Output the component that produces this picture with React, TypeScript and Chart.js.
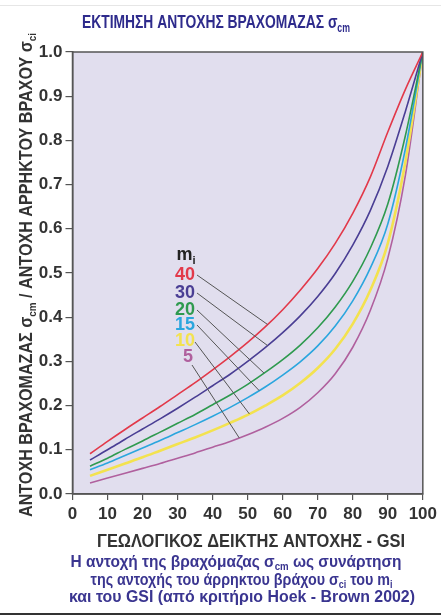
import React, { useEffect, useRef } from "react";
import { Chart, registerables } from "chart.js";

Chart.register(...registerables);

// ---- data ----
const gsi = [5, 10, 15, 20, 25, 30, 35, 40, 45, 50, 55, 60, 65, 70, 75, 80, 85, 90, 95, 100];
const mi40 = [0.091, 0.119, 0.146, 0.172, 0.198, 0.225, 0.252, 0.281, 0.311, 0.343, 0.378, 0.417, 0.461, 0.51, 0.567, 0.635, 0.717, 0.819, 0.915, 1.0];
const mi30 = [0.077, 0.1, 0.124, 0.147, 0.17, 0.194, 0.219, 0.245, 0.271, 0.3, 0.331, 0.365, 0.403, 0.447, 0.499, 0.563, 0.641, 0.741, 0.865, 1.0];
const mi20 = [0.063, 0.081, 0.101, 0.12, 0.14, 0.16, 0.18, 0.202, 0.224, 0.248, 0.275, 0.304, 0.337, 0.376, 0.423, 0.481, 0.556, 0.656, 0.81, 1.0];
const mi15 = [0.055, 0.07, 0.087, 0.104, 0.121, 0.139, 0.157, 0.176, 0.196, 0.218, 0.242, 0.269, 0.299, 0.335, 0.38, 0.437, 0.511, 0.611, 0.78, 1.0];
const mi10 = [0.041, 0.055, 0.069, 0.083, 0.098, 0.113, 0.128, 0.144, 0.161, 0.179, 0.2, 0.223, 0.251, 0.285, 0.328, 0.385, 0.461, 0.567, 0.75, 1.0];
const mi5 = [0.025, 0.036, 0.047, 0.058, 0.069, 0.081, 0.093, 0.106, 0.119, 0.134, 0.151, 0.171, 0.196, 0.229, 0.272, 0.332, 0.415, 0.533, 0.72, 1.0];
const miLabels = ["40", "30", "20", "15", "10", "5"];
const leaderGSI = [55.7, 55.7, 54.7, 53.3, 50.5, 47.6];
const xTicksMin = 0;
const xTicksMax = 100;
const yTicksMin = 0;
const yTicksMax = 1;

// ---- styles ----
const series = [mi40, mi30, mi20, mi15, mi10, mi5];
const colors = ["#e2394a", "#4a3e94", "#2f9a4f", "#2ba6de", "#f3e24f", "#b0609e"];
const widths = [1.6, 1.6, 1.6, 1.6, 2.6, 1.6];
const FONT = '"Liberation Sans", Arial, sans-serif';

type Run = { t: string; sub?: boolean };

function fontFor(size: number, sub?: boolean) {
  return `bold ${sub ? Math.round(size * 0.62) : size}px ${FONT}`;
}
function runsWidth(ctx: CanvasRenderingContext2D, runs: Run[], size: number) {
  let w = 0;
  for (const r of runs) {
    ctx.font = fontFor(size, r.sub);
    w += ctx.measureText(r.t).width;
  }
  return w;
}
function drawRuns(
  ctx: CanvasRenderingContext2D,
  runs: Run[],
  x: number,
  y: number,
  size: number,
  color: string,
  align: "left" | "center",
  fit?: number
) {
  const w = runsWidth(ctx, runs, size);
  const sx = fit ? fit / w : 1;
  ctx.save();
  ctx.translate(x, y);
  ctx.scale(sx, 1);
  ctx.fillStyle = color;
  ctx.textAlign = "left";
  ctx.textBaseline = "alphabetic";
  let cx = align === "center" ? -w / 2 : 0;
  for (const r of runs) {
    ctx.font = fontFor(size, r.sub);
    ctx.fillText(r.t, cx, r.sub ? size * 0.2 : 0);
    cx += ctx.measureText(r.t).width;
  }
  ctx.restore();
}

function valueAt(vals: number[], g: number) {
  for (let i = 0; i < gsi.length - 1; i++) {
    if (g >= gsi[i] && g <= gsi[i + 1]) {
      const t = (g - gsi[i]) / (gsi[i + 1] - gsi[i]);
      return vals[i] + t * (vals[i + 1] - vals[i]);
    }
  }
  return vals[vals.length - 1];
}

const bgPlugin = {
  id: "bgPlugin",
  beforeDraw(chart: any) {
    const { ctx, chartArea: a } = chart;
    ctx.save();
    ctx.fillStyle = "#ffffff";
    ctx.fillRect(0, 0, chart.width, chart.height);
    ctx.fillStyle = "#e1deee";
    ctx.fillRect(a.left, a.top, a.right - a.left, a.bottom - a.top);
    ctx.restore();
  },
};

const decoPlugin = {
  id: "decoPlugin",
  afterDraw(chart: any) {
    const { ctx, chartArea: a } = chart;
    const xs = chart.scales.x;
    const ys = chart.scales.y;
    ctx.save();
    // frame
    ctx.strokeStyle = "#555555";
    ctx.lineWidth = 1.5;
    ctx.strokeRect(a.left, a.top, a.right - a.left, a.bottom - a.top);

    // faint top rule and dark bottom rule
    ctx.fillStyle = "#e6e6e6";
    ctx.fillRect(0, 5, chart.width, 1);
    ctx.fillStyle = "#333333";
    ctx.fillRect(0, 613, chart.width, 2);

    // title
    drawRuns(ctx, [{ t: "ΕΚΤΙΜΗΣΗ ΑΝΤΟΧΗΣ ΒΡΑΧΟΜΑΖΑΣ σ" }, { t: "cm", sub: true }], 82, 28, 19, "#2e2b8c", "left", 268);

    // y axis title
    ctx.save();
    ctx.translate(32, 275);
    ctx.rotate(-Math.PI / 2);
    drawRuns(
      ctx,
      [
        { t: "ΑΝΤΟΧΗ ΒΡΑΧΟΜΑΖΑΣ σ" },
        { t: "cm", sub: true },
        { t: " / ΑΝΤΟΧΗ ΑΡΡΗΚΤΟΥ ΒΡΑΧΟΥ σ" },
        { t: "ci", sub: true },
      ],
      0,
      0,
      18,
      "#333333",
      "center",
      484
    );
    ctx.restore();

    // x axis title
    drawRuns(ctx, [{ t: "ΓΕΩΛΟΓΙΚΟΣ ΔΕΙΚΤΗΣ ΑΝΤΟΧΗΣ - GSI" }], 97, 546.5, 18, "#333333", "left", 308);

    // caption
    const cap = "#3a3590";
    drawRuns(ctx, [{ t: "Η αντοχή της βραχόμαζας σ" }, { t: "cm", sub: true }, { t: " ως συνάρτηση" }], 70.5, 567, 16, cap, "left", 331);
    drawRuns(
      ctx,
      [{ t: "της αντοχής του άρρηκτου βράχου σ" }, { t: "ci", sub: true }, { t: " του m" }, { t: "i", sub: true }],
      90.5,
      584.5,
      16,
      cap,
      "left",
      302
    );
    drawRuns(ctx, [{ t: "και του GSI (από κριτήριο Hoek - Brown 2002)" }], 69, 602, 16, cap, "left", 346);

    // m_i legend with leader lines
    drawRuns(ctx, [{ t: "m" }, { t: "i", sub: true }], 176.5, 260, 18, "#222222", "left");
    const labelBase = [280, 298, 315, 330, 346, 362];
    const labelX = [175, 175, 175, 175, 175, 183];
    const startPts = [
      [197, 275],
      [197, 293],
      [197, 310],
      [197, 325],
      [195, 342],
      [192, 365],
    ];
    ctx.strokeStyle = "#555555";
    ctx.lineWidth = 1;
    for (let i = 0; i < miLabels.length; i++) {
      const g = leaderGSI[i];
      const v = valueAt(series[i], g);
      ctx.beginPath();
      ctx.moveTo(startPts[i][0], startPts[i][1]);
      ctx.lineTo(xs.getPixelForValue(g), ys.getPixelForValue(v));
      ctx.stroke();
    }
    for (let i = 0; i < miLabels.length; i++) {
      drawRuns(ctx, [{ t: miLabels[i] }], labelX[i], labelBase[i], 18, colors[i], "left");
    }
    ctx.restore();
  },
};

export default function App() {
  const ref = useRef<HTMLCanvasElement>(null);
  useEffect(() => {
    if (!ref.current) return;
    const chart = new Chart(ref.current, {
      type: "line",
      data: {
        datasets: series.map((vals, i) => ({
          label: "mi=" + miLabels[i],
          data: gsi.map((g, j) => ({ x: g, y: vals[j] })),
          borderColor: colors[i],
          borderWidth: widths[i],
          pointRadius: 0,
          fill: false,
          cubicInterpolationMode: "monotone" as const,
        })),
      },
      options: {
        responsive: false,
        animation: false,
        layout: { padding: { left: 0, right: 18, top: 52, bottom: 0 } },
        plugins: { legend: { display: false }, tooltip: { enabled: false }, title: { display: false } },
        scales: {
          x: {
            type: "linear",
            min: xTicksMin,
            max: xTicksMax,
            afterFit: (s: any) => {
              s.height = 121;
            },
            ticks: {
              stepSize: 10,
              color: "#333333",
              font: { family: FONT, size: 17, weight: "bold" },
              padding: 4,
              maxRotation: 0,
            },
            grid: { drawOnChartArea: false, drawTicks: true, tickLength: 6, color: "#555555", lineWidth: 1.2 },
            border: { display: true, color: "#555555", width: 1.5 },
          },
          y: {
            type: "linear",
            min: yTicksMin,
            max: yTicksMax,
            afterFit: (s: any) => {
              s.width = 72.5;
            },
            ticks: {
              stepSize: 0.1,
              color: "#333333",
              font: { family: FONT, size: 17, weight: "bold" },
              padding: 3,
              callback: (v: any) => Number(v).toFixed(1),
            },
            grid: { drawOnChartArea: false, drawTicks: true, tickLength: 7, color: "#555555", lineWidth: 1.2 },
            border: { display: true, color: "#555555", width: 1.5 },
          },
        },
      } as any,
      plugins: [bgPlugin, decoPlugin],
    });
    return () => chart.destroy();
  }, []);
  return (
    <div style={{ position: "fixed", left: 0, top: 0, width: 441, height: 615, background: "#fff" }}>
      <canvas ref={ref} width={441} height={615} style={{ display: "block", width: 441, height: 615 }} />
    </div>
  );
}
